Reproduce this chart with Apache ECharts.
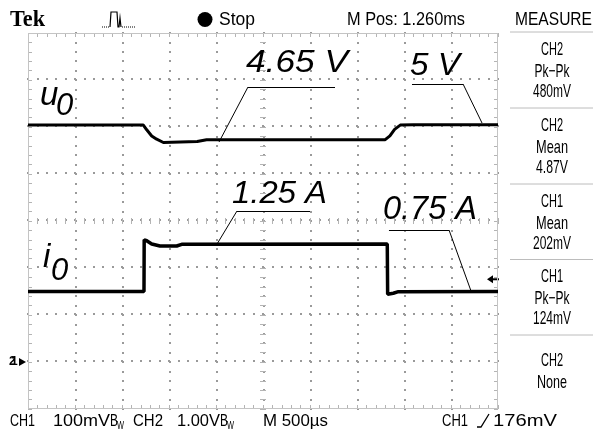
<!DOCTYPE html>
<html><head><meta charset="utf-8">
<script src="https://cdn.jsdelivr.net/npm/echarts@6/dist/echarts.min.js"></script>
<style>html,body{margin:0;padding:0;background:#fff}#c{width:594px;height:434px}</style>
</head><body><div id="c"></div>
<script>
// ---- data (time in ms, 500 us/div, 10 div) ----
const timeRange = [0, 5];
const timeDiv = 0.5;
// CH2 : u0 in volts (1.00 V/div), ground 1 div above bottom
const voltRange = [-1, 7];
const uTime = [0, 1.227, 1.263, 1.316, 1.369, 1.44, 1.80, 1.90, 3.80, 3.85, 3.90, 3.96, 4.10, 5.0];
const uVolt = [5.04, 5.04, 4.94, 4.81, 4.74, 4.67, 4.69, 4.73, 4.73, 4.81, 4.95, 5.04, 5.05, 5.05];
// CH1 : i0 in amperes
const ampRange = [-0.5, 3.5];
const iTime = [0, 1.234, 1.236, 1.245, 1.263, 1.316, 1.404, 1.582, 1.635, 3.822, 3.826, 3.844, 3.886, 3.94, 5.0];
const iAmp  = [0.75, 0.75, 1.30, 1.32, 1.29, 1.255, 1.234, 1.234, 1.252, 1.255, 0.72, 0.702, 0.731, 0.748, 0.75];
// annotation labels and leader lines (data units)
const uLabels = ['4.65 V', '5 V'];
const iLabels = ['1.25 A', '0.75 A'];
const uLeaders = [[[2.340, 5.85], [3.266, 5.85]], [[2.340, 5.85], [2.032, 4.68]],
                  [[4.085, 5.915], [4.628, 5.915]], [[4.628, 5.915], [4.830, 5.085]]];
const iLeaders = [[[2.223, 1.606], [3.0, 1.606]], [[2.223, 1.606], [2.011, 1.255]],
                  [[3.840, 1.404], [4.479, 1.404]], [[4.479, 1.404], [4.713, 0.755]]];
const triggerLevelA = 0.88;   // 176 mV on CH1
// texts
const headerTexts = ['Tek', 'Stop', 'M Pos: 1.260ms', 'MEASURE'];
const measureItems = [['CH2', 'Pk\u2212Pk', '480mV'], ['CH2', 'Mean', '4.87V'], ['CH1', 'Mean', '202mV'], ['CH1', 'Pk\u2212Pk', '124mV'], ['CH2', 'None']];
const bottomTexts = ['CH1', '100mV', 'CH2', '1.00V', 'M 500\u00b5s', 'CH1', '176mV'];

// ---- axes: main scales + graticule drawn as axis ticks placed with onZero ----
const xAxes = [{type: 'value', min: timeRange[0], max: timeRange[1], show: false}];
const yAxes = [{type: 'value', min: voltRange[0], max: voltRange[1], show: false},
               {type: 'value', min: ampRange[0], max: ampRange[1], show: false}];
const hostYIdx = {0: 0}, hostXIdx = {0: 0};
function hostY(v) {   // hidden y axis whose zero lies at volt level v
  if (!(v in hostYIdx)) { yAxes.push({type: 'value', min: voltRange[0] - v, max: voltRange[1] - v, show: false, axisLine: {onZero: false}}); hostYIdx[v] = yAxes.length - 1; }
  return hostYIdx[v];
}
function hostX(t) {   // hidden x axis whose zero lies at time t
  if (!(t in hostXIdx)) { xAxes.push({type: 'value', min: timeRange[0] - t, max: timeRange[1] - t, show: false, axisLine: {onZero: false}}); hostXIdx[t] = xAxes.length - 1; }
  return hostXIdx[t];
}
function tickCfg(len, w, color) {
  return {axisLabel: {show: false}, splitLine: {show: false}, minorSplitLine: {show: false}, silent: true,
    axisTick: {show: true, inside: true, length: len, lineStyle: {color: color, width: w}},
    minorTick: {show: true, splitNumber: 5, length: len, lineStyle: {color: color, width: w}}};
}
function xTicks(v, pos, len, w, color) {
  const host = hostY(v);
  xAxes.push(Object.assign({type: 'value', min: timeRange[0], max: timeRange[1], interval: timeDiv, position: pos,
    axisLine: {show: false, onZero: true, onZeroAxisIndex: host}}, tickCfg(len, w, color)));
}
function yTicks(t, pos, len, w, color) {
  const host = hostX(t);
  yAxes.push(Object.assign({type: 'value', min: voltRange[0], max: voltRange[1], interval: 1, position: pos,
    axisLine: {show: false, onZero: true, onZeroAxisIndex: host}}, tickCfg(len, w, color)));
}
const dotC = '#9a9a9a', tickC = '#b4b4b4';
for (let v = voltRange[0] + 1; v < voltRange[1]; v++) xTicks(v, 'bottom', 2, 2, dotC);
for (let k = 1; k < 10; k++) yTicks(k * timeDiv, 'left', 2, 2, dotC);
xTicks(voltRange[0], 'bottom', 4, 1, tickC);
xTicks(voltRange[1], 'top', 4, 1, tickC);
yTicks(timeRange[0], 'left', 4, 1, tickC);
yTicks(timeRange[1], 'right', 4, 1, tickC);
xTicks((voltRange[0] + voltRange[1]) / 2, 'bottom', 3, 1, tickC);
xTicks((voltRange[0] + voltRange[1]) / 2, 'top', 3, 1, tickC);
yTicks((timeRange[0] + timeRange[1]) / 2, 'left', 3, 1, tickC);
yTicks((timeRange[0] + timeRange[1]) / 2, 'right', 3, 1, tickC);

// ---- chart ----
const chart = echarts.init(document.getElementById('c'), null, {renderer: 'canvas', width: 594, height: 434});
const leaderStyle = {color: '#000', width: 1, type: 'solid'};
function mk(leaders) {
  return {silent: true, animation: false, symbol: ['none', 'none'], label: {show: false},
    lineStyle: leaderStyle, emphasis: {disabled: true},
    data: leaders.map(s => [{coord: s[0]}, {coord: s[1]}])};
}
chart.setOption({
  animation: false,
  backgroundColor: '#fff',
  grid: {left: 28, top: 33, width: 470, height: 376, show: false},
  xAxis: xAxes,
  yAxis: yAxes,
  series: [
    {type: 'line', name: 'u0', xAxisIndex: 0, yAxisIndex: 0, data: uTime.map((t, k) => [t, uVolt[k]]),
      symbol: 'none', lineStyle: {color: '#000', width: 3}, itemStyle: {color: '#000'}, z: 5, markLine: mk(uLeaders)},
    {type: 'line', name: 'i0', xAxisIndex: 0, yAxisIndex: 1, data: iTime.map((t, k) => [t, iAmp[k]]),
      symbol: 'none', lineStyle: {color: '#000', width: 3.5}, itemStyle: {color: '#000'}, z: 5, markLine: mk(iLeaders)}
  ]
});

const gfx = [];
// frame
(function () {
  const C = (t, v) => chart.convertToPixel({xAxisIndex: 0, yAxisIndex: 0}, [t, v]);
  const tl = C(timeRange[0], voltRange[1]), br = C(timeRange[1], voltRange[0]);
  const x0 = Math.round(tl[0]), y0 = Math.round(tl[1]), x1 = Math.round(br[0]), y1 = Math.round(br[1]);
  const R = (x, y, w, h, c) => gfx.push({type: 'rect', shape: {x: x, y: y, width: w, height: h}, style: {fill: c}, silent: true, z: 2});
  R(x0, y0, x1 - x0, 1, '#c4c4c4'); R(x0, y1 - 1, x1 - x0, 1, '#c4c4c4');
  R(x0, y0, 1, y1 - y0, '#c4c4c4'); R(x1 - 1, y0, 1, y1 - y0, '#c4c4c4');
})();

// ---- text / decorations ----
const cv = document.createElement('canvas').getContext('2d');
function fontStr(size, o) { return `${o.style || 'normal'} ${o.weight || 'normal'} ${size.toFixed(2)}px ${o.family || '"Liberation Sans"'}`; }
function T(str, l, r, top, bot, o = {}) {
  const size = (bot - top) / (o.cap || 0.716);
  const font = fontStr(size, o);
  cv.font = font;
  const w = cv.measureText(str).width;
  const align = o.align || 'left';
  const x = align === 'center' ? (l + r) / 2 : l;
  return {type: 'text', x: x, y: (top + bot) / 2 + (o.dy || 0), scaleX: (r - l) / w, silent: true, z: 20,
    style: {text: str, font: font, fill: '#000', align: align, verticalAlign: 'middle'}};
}
function P(str, x, y, size, o = {}) {
  return {type: 'text', x: x, y: y, silent: true, z: 20,
    style: {text: str, font: fontStr(size, o), fill: '#000', align: 'left', verticalAlign: 'middle'}};
}
// header
gfx.push(T(headerTexts[0], 10, 45, 13, 28, {family: '"Liberation Serif"', weight: 'bold', cap: 0.662}));
gfx.push(T(headerTexts[1], 219, 255, 13, 26));
gfx.push(T(headerTexts[2], 347, 465, 13, 26));
gfx.push(T(headerTexts[3], 515, 592, 13, 26));
gfx.push({type: 'circle', shape: {cx: 205, cy: 19.5, r: 7.5}, style: {fill: '#000'}, silent: true});
// acquisition icon
gfx.push({type: 'polyline', shape: {points: [[102, 27], [110, 27]]}, style: {stroke: '#000', lineWidth: 1, lineDash: [1, 1]}, silent: true});
gfx.push({type: 'polyline', shape: {points: [[110, 27], [111, 12], [117, 12], [118, 27], [119, 27], [120, 18], [121, 27]]}, style: {stroke: '#000', lineWidth: 1.2, fill: null}, silent: true});
gfx.push({type: 'polyline', shape: {points: [[122, 27], [135, 27]]}, style: {stroke: '#000', lineWidth: 1, lineDash: [1, 1]}, silent: true});
// measure panel
const secTop = [32, 108, 184, 259.5, 335];
const widths = {CH1: 22, CH2: 22, 'Pk\u2212Pk': 35, Mean: 32, None: 30};
secTop.forEach((y, k) => {
  gfx.push({type: 'line', shape: {x1: 510, y1: y, x2: 593, y2: y}, style: {stroke: '#bcbcbc', lineWidth: 1}, silent: true});
  const item = measureItems[k];
  const offs = item.length === 3 ? [17.5, 39.5, 59.5] : [26, 48];
  item.forEach((s, j) => {
    const w = widths[s] || (s.length === 5 && s.endsWith('mV') ? 38 : 32);
    const c = y + offs[j];
    gfx.push(T(s, 552 - w / 2, 552 + w / 2, c - 6.5, c + 6.5, {align: 'center'}));
  });
});
// bottom status line
const bt = 415, bb = 427;
gfx.push(T(bottomTexts[0], 10, 35, bt, bb));
gfx.push(T(bottomTexts[1], 53, 110, bt, bb));
gfx.push(T('B', 110, 118, bt, bb));
gfx.push(T('W', 117, 124, 422, 430));
gfx.push(T(bottomTexts[2], 133, 163, bt, bb));
gfx.push(T(bottomTexts[3], 177, 220, bt, bb));
gfx.push(T('B', 220, 228, bt, bb));
gfx.push(T('W', 227, 234, 422, 430));
gfx.push(T(bottomTexts[4], 263, 328, bt, bb));
gfx.push(T(bottomTexts[5], 442, 468, bt, bb));
gfx.push({type: 'polyline', shape: {points: [[477, 427], [481, 427], [489, 414]]}, style: {stroke: '#000', lineWidth: 1.3, fill: null}, silent: true});
gfx.push(T(bottomTexts[6], 493, 557, bt, bb));
// channel ground markers
const g2 = chart.convertToPixel({yAxisIndex: 0}, 0);
gfx.push(P('2', 9, g2, 12, {weight: 'bold'}));
gfx.push(P('1', 11, g2, 12, {weight: 'bold'}));
gfx.push({type: 'polygon', shape: {points: [[19, g2 - 4], [26, g2], [19, g2 + 4]]}, style: {fill: '#000'}, silent: true});
// trigger level marker
const tY = chart.convertToPixel({yAxisIndex: 1}, triggerLevelA);
gfx.push({type: 'polygon', shape: {points: [[487, tY], [493, tY - 4], [493, tY + 4]]}, style: {fill: '#000'}, silent: true});
gfx.push({type: 'line', shape: {x1: 492, y1: tY, x2: 499, y2: tY}, style: {stroke: '#000', lineWidth: 2}, silent: true});
// trace annotations
gfx.push(T(uLabels[0], 246, 348, 52, 75, {style: 'italic'}));
gfx.push(T(uLabels[1], 410, 460, 55, 77, {style: 'italic'}));
gfx.push(T(iLabels[0], 232, 327, 183, 205, {style: 'italic'}));
gfx.push(T(iLabels[1], 383, 477, 198, 222, {style: 'italic'}));
gfx.push(P('u', 40, 96, 33, {style: 'italic'}));
gfx.push(P('0', 56, 106.5, 31, {style: 'italic'}));
gfx.push(P('i', 43, 258, 33, {style: 'italic'}));
gfx.push(P('0', 51, 271, 31, {style: 'italic'}));
chart.setOption({graphic: gfx});
</script></body></html>
